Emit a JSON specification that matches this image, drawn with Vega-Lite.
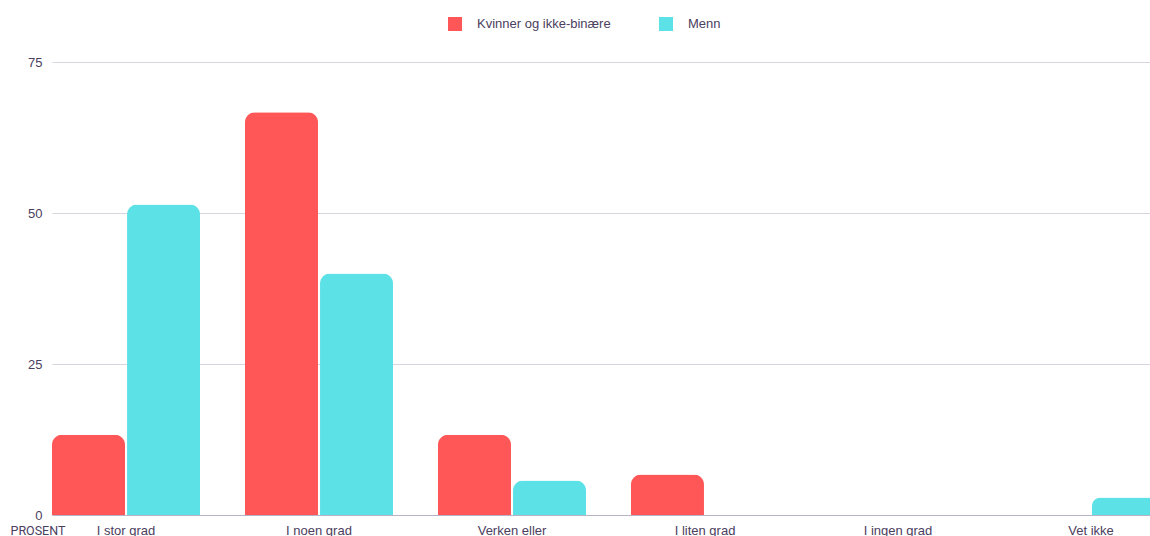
{
  "$schema": "https://vega.github.io/schema/vega-lite/v6.json",
  "autosize": "none",
  "width": 1098,
  "height": 453,
  "padding": {"left": 52, "top": 62, "right": 0, "bottom": 21},
  "background": "white",
  "data": {
    "values": [
      {"svar": "I stor grad", "gruppe": "Kvinner og ikke-binære", "prosent": 13.3},
      {"svar": "I stor grad", "gruppe": "Menn", "prosent": 51.4},
      {"svar": "I noen grad", "gruppe": "Kvinner og ikke-binære", "prosent": 66.7},
      {"svar": "I noen grad", "gruppe": "Menn", "prosent": 40.0},
      {"svar": "Verken eller", "gruppe": "Kvinner og ikke-binære", "prosent": 13.3},
      {"svar": "Verken eller", "gruppe": "Menn", "prosent": 5.7},
      {"svar": "I liten grad", "gruppe": "Kvinner og ikke-binære", "prosent": 6.7},
      {"svar": "I liten grad", "gruppe": "Menn", "prosent": 0},
      {"svar": "I ingen grad", "gruppe": "Kvinner og ikke-binære", "prosent": 0},
      {"svar": "I ingen grad", "gruppe": "Menn", "prosent": 0},
      {"svar": "Vet ikke", "gruppe": "Kvinner og ikke-binære", "prosent": 0},
      {"svar": "Vet ikke", "gruppe": "Menn", "prosent": 2.9}
    ]
  },
  "mark": {"type": "bar", "cornerRadiusTopLeft": 10, "cornerRadiusTopRight": 10},
  "encoding": {
    "x": {
      "field": "svar",
      "type": "nominal",
      "sort": ["I stor grad", "I noen grad", "Verken eller", "I liten grad", "I ingen grad", "Vet ikke"],
      "scale": {"range": [0, 1113], "paddingInner": 0.233, "paddingOuter": 0},
      "axis": {
        "title": null,
        "labelAngle": 0,
        "ticks": false,
        "grid": false,
        "domain": true,
        "domainColor": "#b9b3c6",
        "domainWidth": 1,
        "labelPadding": 9,
        "labelFont": "Liberation Sans",
        "labelFontSize": 13,
        "labelColor": "#4b4060"
      }
    },
    "xOffset": {
      "field": "gruppe",
      "type": "nominal",
      "sort": ["Kvinner og ikke-binære", "Menn"],
      "scale": {"paddingInner": 0.027, "paddingOuter": 0}
    },
    "y": {
      "field": "prosent",
      "type": "quantitative",
      "scale": {"domain": [0, 75], "nice": false},
      "axis": {
        "values": [0, 25, 50, 75],
        "title": "PROSENT",
        "titleAngle": 0,
        "titleAlign": "left",
        "titleBaseline": "middle",
        "titleX": -42,
        "titleY": 468,
        "titleFont": "Roboto",
        "titleFontSize": 12.5,
        "titleFontWeight": "normal",
        "titleColor": "#4b4060",
        "ticks": false,
        "domain": false,
        "grid": true,
        "gridColor": "#d8d5e0",
        "gridWidth": 1,
        "labelPadding": 10,
        "labelFont": "Liberation Sans",
        "labelFontSize": 13,
        "labelColor": "#4b4060"
      }
    },
    "color": {
      "field": "gruppe",
      "type": "nominal",
      "sort": ["Kvinner og ikke-binære", "Menn"],
      "scale": {"domain": ["Kvinner og ikke-binære", "Menn"], "range": ["#ff5757", "#5ce1e6"]},
      "legend": {
        "title": null,
        "orient": "none",
        "direction": "horizontal",
        "legendX": 396,
        "legendY": -45,
        "padding": 0,
        "symbolType": "square",
        "symbolSize": 196,
        "symbolStrokeWidth": 0,
        "symbolOpacity": 1,
        "labelOffset": 15,
        "columnPadding": 48,
        "labelFont": "Liberation Sans",
        "labelFontSize": 13,
        "labelColor": "#4b4060"
      }
    }
  },
  "config": {
    "view": {"stroke": null}
  }
}
